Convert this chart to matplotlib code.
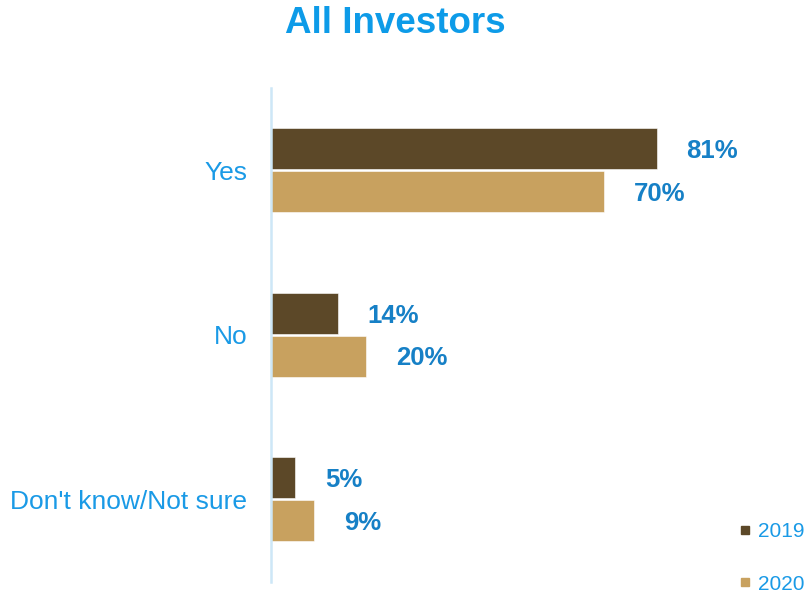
import matplotlib
matplotlib.use("Agg")
import matplotlib.pyplot as plt
from matplotlib.lines import Line2D
import numpy as np

plt.rcParams['font.family'] = ['Liberation Sans', 'DejaVu Sans']

categories = ["Yes", "No", "Don't know/Not sure"]
years = ["2019", "2020"]
values_2019 = [81, 14, 5]
values_2020 = [70, 20, 9]

c2019 = "#5c4828"
c2020 = "#c8a15f"
title_color = "#0d9be8"
tick_color = "#1a9ae6"
value_color = "#1680c6"

fig = plt.figure(figsize=(8.08, 5.94), dpi=100)
ax = fig.add_axes([271 / 808, 1 - 581.5 / 594, (800 - 271) / 808, (581.5 - 88) / 594])

y = np.arange(len(categories))
h = 0.25
off = 0.131
ax.barh(y - off, values_2019, height=h, color=c2019, edgecolor="white", linewidth=0.4)
ax.barh(y + off, values_2020, height=h, color=c2020, edgecolor="white", linewidth=0.4)

for yy, v in zip(y - off, values_2019):
    ax.annotate(f"{v}%", (v, yy), xytext=(21.6, -1.8), textcoords="offset points",
                ha="left", va="center", fontsize=18.5, fontweight="bold", color=value_color)
for yy, v in zip(y + off, values_2020):
    ax.annotate(f"{v}%", (v, yy), xytext=(21.6, -1.4), textcoords="offset points",
                ha="left", va="center", fontsize=18.5, fontweight="bold", color=value_color)

ax.set_xlim(0, (800 - 271) / 4.76)
ax.set_ylim(2.5, -0.5)
ax.set_yticks(y)
ax.set_yticklabels(categories, fontsize=19, color=tick_color)
ax.tick_params(axis="y", length=0, pad=17)
ax.set_xticks([])
for s in ["top", "right", "bottom"]:
    ax.spines[s].set_visible(False)
ax.spines["left"].set_color("#cde7f7")
ax.spines["left"].set_linewidth(1.8)

fig.text(0.489, 1 - 33 / 594, "All Investors", ha="center", va="baseline",
         fontsize=26.5, fontweight="bold", color=title_color)

handles = [Line2D([], [], marker="s", linestyle="none", markersize=6, color=c2019),
           Line2D([], [], marker="s", linestyle="none", markersize=6, color=c2020)]
leg = fig.legend(handles, years, loc="lower left", bbox_to_anchor=(724 / 808, -0.024),
                 frameon=False, fontsize=15, labelspacing=1.6, handlelength=0.6,
                 handletextpad=0.35, borderpad=0.2)
for t in leg.get_texts():
    t.set_color(tick_color)

fig.savefig("out.png", dpi=100)
